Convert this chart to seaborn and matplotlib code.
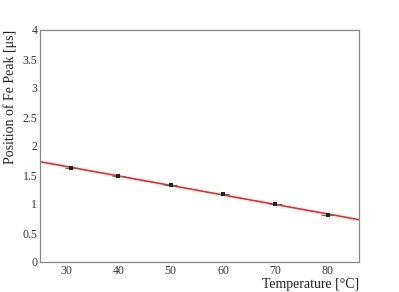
import numpy as np
import pandas as pd
import matplotlib
matplotlib.use("Agg")
import matplotlib.pyplot as plt
import seaborn as sns
from matplotlib.ticker import MultipleLocator

# Messwerte
temperature = [31, 40, 50, 60, 70, 80]
peak_pos = [1.62, 1.48, 1.33, 1.17, 1.00, 0.81]
temp_err = [1.2, 1.2, 1.2, 1.2, 1.2, 1.2]
peak_err = [0.02, 0.02, 0.02, 0.02, 0.02, 0.02]

df = pd.DataFrame({"T": temperature, "pos": peak_pos})

sns.set_style("white")
plt.rcParams["font.family"] = ["Liberation Serif", "DejaVu Serif"]

fig = plt.figure(figsize=(3.99, 2.92), dpi=100)
ax = fig.add_axes([40 / 399, 30 / 292, 319 / 399, 232 / 292])

# Linearer Fit
slope, intercept = np.polyfit(temperature, peak_pos, 1)
xs = np.array([25, 86])
ax.plot(xs, intercept + slope * xs, color="#ff2020", lw=1.2, zorder=2)

ax.errorbar(temperature, peak_pos, xerr=temp_err, yerr=peak_err, fmt="none",
            ecolor="#666666", elinewidth=0.8, zorder=3)
sns.scatterplot(data=df, x="T", y="pos", ax=ax, marker="s", s=8,
                color="#222222", edgecolor="none", zorder=4)

ax.set_xlim(25, 86)
ax.set_ylim(0, 4)
ax.xaxis.set_major_locator(MultipleLocator(10))
ax.xaxis.set_minor_locator(MultipleLocator(2))
ax.yaxis.set_major_locator(MultipleLocator(0.5))
ax.yaxis.set_minor_locator(MultipleLocator(0.1))
ax.yaxis.set_major_formatter(plt.FuncFormatter(lambda v, p: f"{v:g}"))
ax.tick_params(which="both", direction="in", color="#777777", labelsize=8.5,
               labelcolor="#333333", top=False, right=False)
ax.tick_params(which="major", length=7, width=0.8)
ax.tick_params(which="minor", length=3.5, width=0.8)
ax.tick_params(axis="x", pad=2.5)
ax.tick_params(axis="y", pad=2)
for sp in ax.spines.values():
    sp.set_color("#888888")
    sp.set_linewidth(0.9)

ax.set_xlabel("Temperature [°C]", fontsize=10, color="#222222")
ax.xaxis.set_label_coords(1.0, -0.07)
ax.xaxis.label.set_ha("right")
ax.set_ylabel("Position of Fe Peak [μs]", fontsize=10, color="#222222")
ax.yaxis.set_label_coords(-0.072, 1.0)
ax.yaxis.label.set_ha("right")

fig.savefig("out.png", dpi=100)
